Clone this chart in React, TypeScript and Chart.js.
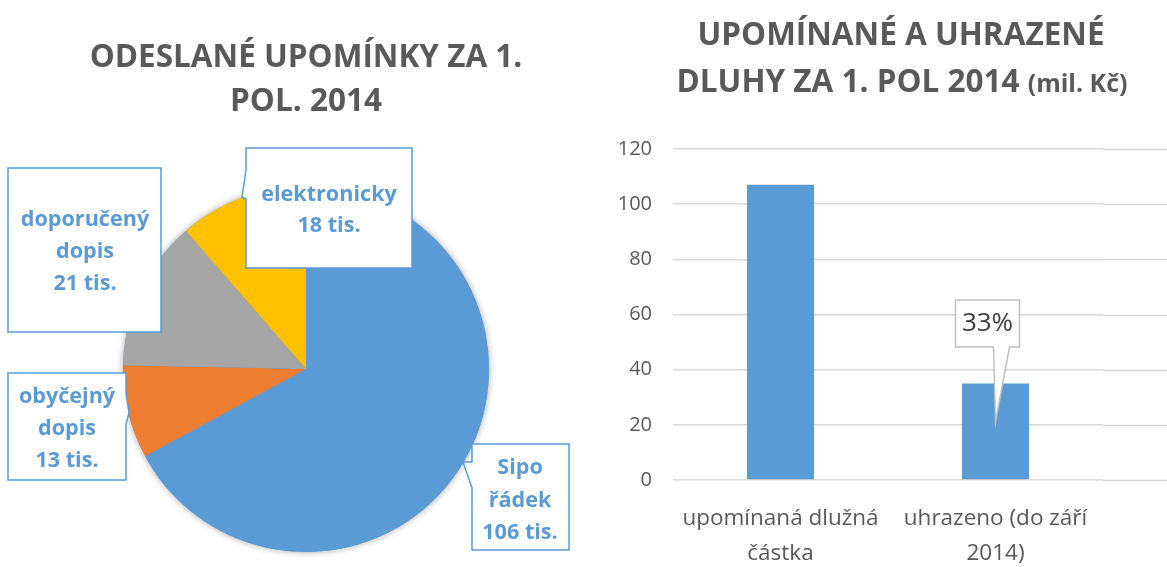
import React, { useEffect, useRef } from "react";
import { Chart, registerables } from "chart.js";
Chart.register(...registerables);

// ---------- data ----------
const pieTitle = ["ODESLANÉ UPOMÍNKY ZA 1.", "POL. 2014"];
const pieLabels = ["Sipo řádek", "obyčejný dopis", "doporučený dopis", "elektronicky"];
const pieValues = [106, 13, 21, 18];
const pieColors = ["#5b9bd5", "#ed7d31", "#a5a5a5", "#ffc000"];
const pieCalloutText = [
  ["Sipo", "řádek", "106 tis."],
  ["obyčejný", "dopis", "13 tis."],
  ["doporučený", "dopis", "21 tis."],
  ["elektronicky", "18 tis."],
];

const barTitleLine1 = "UPOMÍNANÉ A UHRAZENÉ";
const barTitleLine2 = "DLUHY ZA 1. POL 2014";
const barTitleUnit = "(mil. Kč)";
const barCategories = [["upomínaná dlužná", "částka"], ["uhrazeno (do září", "2014)"]];
const barValues = [107, 35];
const barCalloutText = "33%";
const yMax = 120;
const yStep = 20;

// ---------- layout (positions / styles) ----------
const FONT = "'Open Sans', sans-serif";
const TITLE_COLOR = "#595959";
const BLUE = "#5b9bd5";

type Box = {
  x: number; y: number; w: number; h: number;
  wedge?: { side: "left" | "right" | "bottom"; a: number; b: number; tx: number; ty: number };
  cx: number; lineY: number[];
};

const pieBoxes: Box[] = [
  { x: 472, y: 444, w: 97, h: 106, wedge: { side: "left", a: 462, b: 488, tx: 463, ty: 462 }, cx: 520, lineY: [468, 501, 533] },
  { x: 8, y: 373, w: 118, h: 107, wedge: { side: "right", a: 393, b: 424, tx: 129, ty: 413 }, cx: 67, lineY: [397, 429, 461] },
  { x: 8, y: 168, w: 153, h: 164, cx: 85, lineY: [220, 252, 284] },
  { x: 246, y: 148, w: 166, h: 120, wedge: { side: "left", a: 170, b: 199, tx: 242, ty: 197 }, cx: 329, lineY: [195, 226] },
];

function boxPath(ctx: CanvasRenderingContext2D, b: Box) {
  const x1 = b.x, y1 = b.y, x2 = b.x + b.w, y2 = b.y + b.h;
  ctx.beginPath();
  ctx.moveTo(x1, y1);
  ctx.lineTo(x2, y1);
  if (b.wedge && b.wedge.side === "right") {
    ctx.lineTo(x2, b.wedge.a);
    ctx.lineTo(b.wedge.tx, b.wedge.ty);
    ctx.lineTo(x2, b.wedge.b);
  }
  ctx.lineTo(x2, y2);
  if (b.wedge && b.wedge.side === "bottom") {
    ctx.lineTo(b.wedge.b, y2);
    ctx.lineTo(b.wedge.tx, b.wedge.ty);
    ctx.lineTo(b.wedge.a, y2);
  }
  ctx.lineTo(x1, y2);
  if (b.wedge && b.wedge.side === "left") {
    ctx.lineTo(x1, b.wedge.b);
    ctx.lineTo(b.wedge.tx, b.wedge.ty);
    ctx.lineTo(x1, b.wedge.a);
  }
  ctx.closePath();
}

const pieDecor = {
  id: "pieDecor",
  beforeDatasetsDraw(chart: any) {
    const meta = chart.getDatasetMeta(0);
    const arc = meta.data[0];
    if (!arc) return;
    const ctx = chart.ctx;
    ctx.save();
    ctx.shadowColor = "rgba(0,0,0,0.35)";
    ctx.shadowBlur = 7;
    ctx.fillStyle = BLUE;
    ctx.beginPath();
    ctx.arc(arc.x, arc.y, arc.outerRadius, 0, Math.PI * 2);
    ctx.fill();
    ctx.restore();
  },
  afterDraw(chart: any) {
    const ctx = chart.ctx;
    ctx.save();
    // title
    ctx.fillStyle = TITLE_COLOR;
    ctx.font = `bold 31.5px ${FONT}`;
    ctx.textAlign = "center";
    ctx.textBaseline = "middle";
    ctx.fillText(pieTitle[0], 306, 58);
    ctx.fillText(pieTitle[1], 306, 102);
    // callouts
    pieBoxes.forEach((b, i) => {
      boxPath(ctx, b);
      ctx.fillStyle = "#ffffff";
      ctx.fill();
      ctx.strokeStyle = BLUE;
      ctx.lineWidth = 1.5;
      ctx.stroke();
      ctx.fillStyle = BLUE;
      ctx.font = `bold 21.6px ${FONT}`;
      pieCalloutText[i].forEach((t, j) => ctx.fillText(t, b.cx, b.lineY[j]));
    });
    ctx.restore();
  },
};

const barDecor = {
  id: "barDecor",
  afterDraw(chart: any) {
    const ctx = chart.ctx;
    const y = chart.scales.y;
    const area = chart.chartArea;
    ctx.save();
    // extend gridlines to the right edge
    ctx.strokeStyle = "#d9d9d9";
    ctx.lineWidth = 1.5;
    for (let v = 0; v <= yMax; v += yStep) {
      const py = Math.round(y.getPixelForValue(v)) + 0.5;
      ctx.beginPath();
      ctx.moveTo(area.right, py);
      ctx.lineTo(chart.width, py);
      ctx.stroke();
    }
    // title
    ctx.fillStyle = TITLE_COLOR;
    ctx.textBaseline = "alphabetic";
    ctx.textAlign = "center";
    ctx.font = `bold 31.5px ${FONT}`;
    ctx.fillText(barTitleLine1, 321, 45);
    const w1 = ctx.measureText(barTitleLine2 + " ").width;
    ctx.font = `bold 25px ${FONT}`;
    const w2 = ctx.measureText(barTitleUnit).width;
    const start = 322 - (w1 + w2) / 2;
    ctx.textAlign = "left";
    ctx.font = `bold 31.5px ${FONT}`;
    ctx.fillText(barTitleLine2 + " ", start, 92);
    ctx.font = `bold 25px ${FONT}`;
    ctx.fillText(barTitleUnit, start + w1, 92);
    // callout over second bar
    const bar = chart.getDatasetMeta(0).data[1];
    if (bar) {
      const tipX = bar.x;
      const tipY = y.getPixelForValue(21);
      const cx = bar.x - 8;
      const b: Box = {
        x: cx - 32, y: 300, w: 64, h: 47,
        wedge: { side: "bottom", a: tipX - 2, b: tipX + 14, tx: tipX, ty: tipY },
        cx, lineY: [324],
      };
      boxPath(ctx, b);
      ctx.fillStyle = "#ffffff";
      ctx.fill();
      ctx.strokeStyle = "#bfbfbf";
      ctx.lineWidth = 1.5;
      ctx.stroke();
      ctx.fillStyle = "#404040";
      ctx.textAlign = "center";
      ctx.textBaseline = "middle";
      ctx.font = `26px ${FONT}`;
      ctx.fillText(barCalloutText, cx, 324);
    }
    ctx.restore();
  },
};

export default function App() {
  const pieRef = useRef<HTMLCanvasElement>(null);
  const barRef = useRef<HTMLCanvasElement>(null);

  useEffect(() => {
    const pie = new Chart(pieRef.current!, {
      type: "pie",
      data: {
        labels: pieLabels,
        datasets: [{ data: pieValues, backgroundColor: pieColors, borderWidth: 0 }],
      },
      options: {
        responsive: false,
        animation: false,
        layout: { padding: { left: 123, right: 91, top: 186, bottom: 15 } },
        plugins: { legend: { display: false }, tooltip: { enabled: false }, title: { display: false } },
      },
      plugins: [pieDecor],
    });

    const bar = new Chart(barRef.current!, {
      type: "bar",
      data: {
        labels: barCategories as any,
        datasets: [{ data: barValues, backgroundColor: BLUE, categoryPercentage: 1, barPercentage: 0.312 }],
      },
      options: {
        responsive: false,
        animation: false,
        layout: { padding: { left: 0, right: 64, top: 149, bottom: 0 } },
        plugins: { legend: { display: false }, tooltip: { enabled: false } },
        scales: {
          x: {
            grid: { display: false, drawTicks: false },
            border: { display: false },
            ticks: {
              font: { family: FONT, size: 22.5, lineHeight: 1.55 },
              color: "#595959",
              padding: 21,
              maxRotation: 0,
              autoSkip: false,
            },
            afterFit: (s: any) => { s.height = 87; },
          },
          y: {
            min: 0,
            max: yMax,
            grid: { color: "#d9d9d9", lineWidth: 1.5, drawTicks: false },
            border: { display: false },
            ticks: {
              stepSize: yStep,
              font: { family: FONT, size: 20 },
              color: "#595959",
              padding: 21,
            },
            afterFit: (s: any) => { s.width = 93; },
          },
        },
      },
      plugins: [barDecor],
    });

    return () => {
      pie.destroy();
      bar.destroy();
    };
  }, []);

  return (
    <div style={{ position: "absolute", left: 0, top: 0, width: 1167, height: 567, background: "#fff" }}>
      <canvas ref={pieRef} width={580} height={567} style={{ position: "absolute", left: 0, top: 0 }} />
      <canvas ref={barRef} width={587} height={567} style={{ position: "absolute", left: 580, top: 0 }} />
    </div>
  );
}
